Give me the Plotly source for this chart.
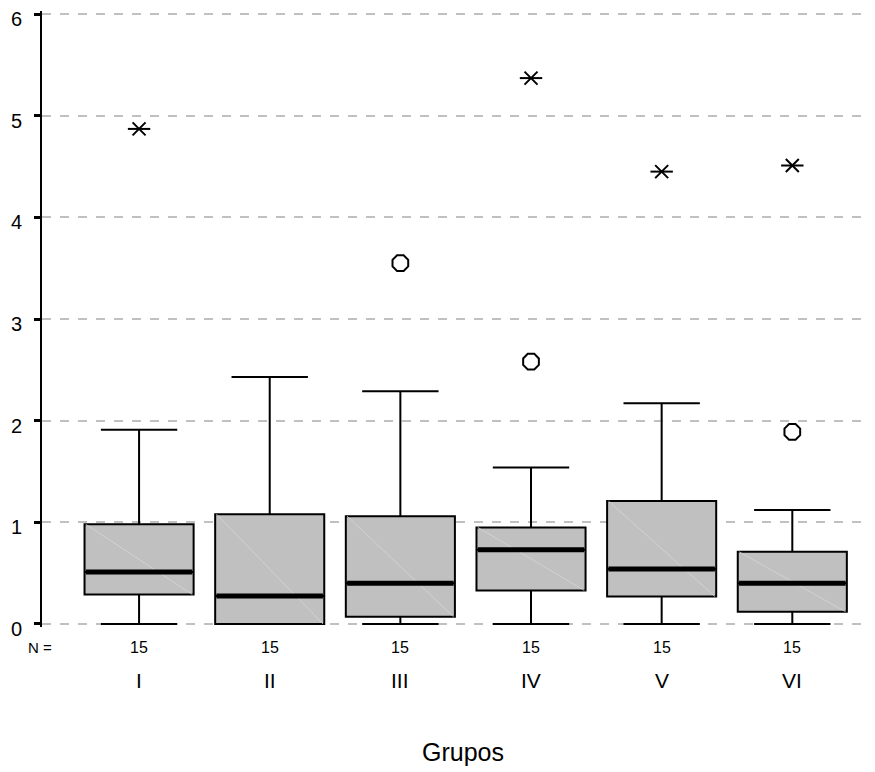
import plotly.graph_objects as go

groups = ["I", "II", "III", "IV", "V", "VI"]
n_counts = [15, 15, 15, 15, 15, 15]
q1 = [0.29, 0.0, 0.07, 0.33, 0.27, 0.12]
medians = [0.51, 0.275, 0.40, 0.73, 0.54, 0.40]
q3 = [0.98, 1.08, 1.06, 0.95, 1.21, 0.71]
lower_whisker = [0.0, 0.0, 0.0, 0.0, 0.0, 0.0]
upper_whisker = [1.91, 2.43, 2.29, 1.54, 2.17, 1.12]
# outliers (circles) and extremes (asterisks): (group index, value)
outlier_group = [2, 3, 5]
outlier_value = [3.55, 2.58, 1.89]
extreme_group = [0, 3, 4, 5]
extreme_value = [4.87, 5.37, 4.45, 4.51]
y_ticks = [0, 1, 2, 3, 4, 5, 6]

pos = list(range(len(groups)))
BOX_W = 0.835
FONT = "Liberation Sans, Arial, sans-serif"

fig = go.Figure()

fig.add_trace(go.Box(
    x=pos, q1=q1, median=medians, q3=q3,
    lowerfence=lower_whisker, upperfence=upper_whisker,
    width=BOX_W, whiskerwidth=0.7,
    fillcolor="#c0c0c0", line=dict(color="black", width=2),
    boxpoints=False, showlegend=False, hoverinfo="skip",
))

# faint diagonal inside boxes
dx, dy = [], []
for i in pos:
    dx += [i - BOX_W / 2 + 0.01, i + BOX_W / 2 - 0.01, None]
    dy += [q3[i], q1[i], None]
fig.add_trace(go.Scatter(x=dx, y=dy, mode="lines",
                         line=dict(color="#d6d6d6", width=0.8),
                         showlegend=False, hoverinfo="skip"))

# thick medians
mx, my = [], []
for i in pos:
    mx += [i - BOX_W / 2 + 0.01, i + BOX_W / 2 - 0.01, None]
    my += [medians[i], medians[i], None]
fig.add_trace(go.Scatter(x=mx, y=my, mode="lines",
                         line=dict(color="black", width=5),
                         showlegend=False, hoverinfo="skip"))

fig.add_trace(go.Scatter(
    x=outlier_group, y=outlier_value, mode="markers",
    marker=dict(symbol="octagon-open", size=17, color="black",
                line=dict(color="black", width=2)),
    showlegend=False, hoverinfo="skip", cliponaxis=False))

# six-armed asterisk = horizontal bar + thin x
for sym, sz in (("line-ew-open", 16), ("x-thin-open", 13)):
    fig.add_trace(go.Scatter(
        x=extreme_group, y=extreme_value, mode="markers",
        marker=dict(symbol=sym, size=sz, color="black",
                    line=dict(color="black", width=2)),
        showlegend=False, hoverinfo="skip", cliponaxis=False))

# annotations: N counts, group labels, title
def py(px):
    return (627 - px) / 616.0

annotations = [dict(x=(32 - 34) / 830.0, xref="paper", y=py(647), yref="paper", text="N =",
                    showarrow=False, font=dict(size=15, color="black", family=FONT),
                    xanchor="center", yanchor="middle")]
for i in pos:
    annotations.append(dict(x=i, xref="x", y=py(647), yref="paper", text=str(n_counts[i]),
                            showarrow=False, font=dict(size=16, color="black", family=FONT),
                            xanchor="center", yanchor="middle"))
    annotations.append(dict(x=i, xref="x", y=py(681), yref="paper", text=groups[i],
                            showarrow=False, font=dict(size=21, color="black", family=FONT),
                            xanchor="center", yanchor="middle"))
annotations.append(dict(x=(455 - 34) / 830.0, xref="paper", y=py(752), yref="paper", text="Grupos",
                        showarrow=False, font=dict(size=25, color="black", family=FONT),
                        xanchor="center", yanchor="middle"))

fig.update_layout(
    width=867, height=764,
    margin=dict(l=34, r=3, t=3, b=145, autoexpand=False),
    paper_bgcolor="white", plot_bgcolor="white",
    font=dict(family=FONT, color="black"),
    annotations=annotations,
    xaxis=dict(range=[-0.743, 5.61], showgrid=False, zeroline=False,
               showline=False, showticklabels=False, ticks="", automargin=False),
    yaxis=dict(range=[-0.03, 6.03], tickvals=y_ticks, automargin=False,
               showgrid=True, gridcolor="#c0c0c0", griddash="dash", gridwidth=2,
               zeroline=False, showline=True, linecolor="black", linewidth=2,
               ticks="outside", ticklen=6, tickwidth=3, tickcolor="black",
               tickfont=dict(size=20, color="black", family=FONT),
               ticklabelstandoff=8, ticklabelshift=5, ticklabeloverflow="allow"),
)

fig.write_html("out.html")
